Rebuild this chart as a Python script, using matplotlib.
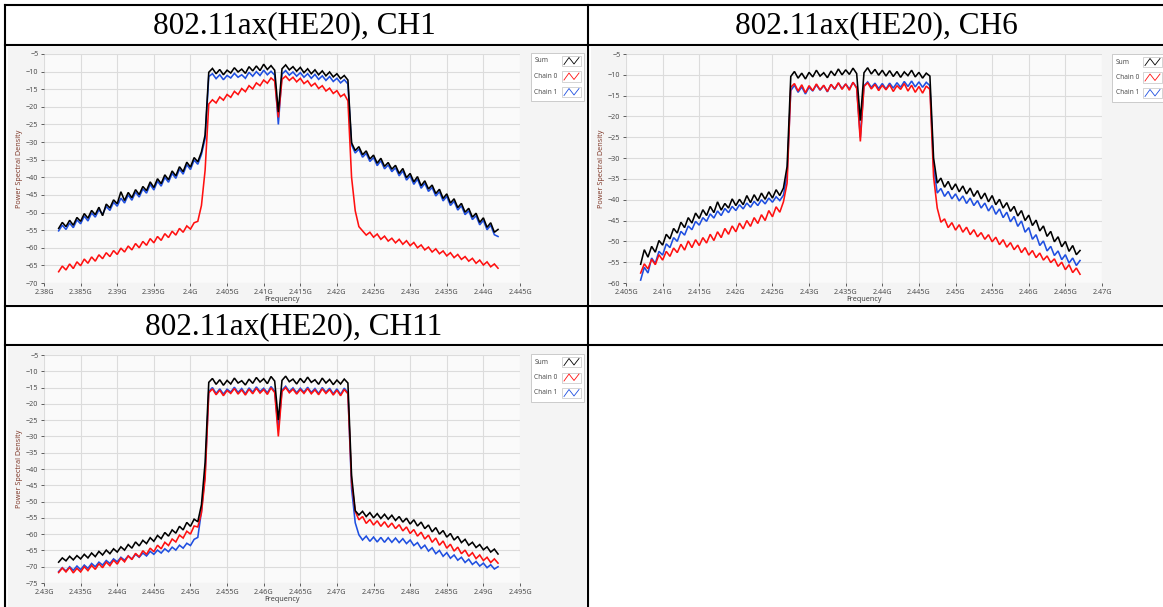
import numpy as np
import matplotlib.pyplot as plt
from matplotlib.lines import Line2D
from matplotlib.patches import Rectangle

W, H = 1163, 607

# Chart titles
titles = ["802.11ax(HE20), CH1", "802.11ax(HE20), CH6", "802.11ax(HE20), CH11"]
series_names = ["Sum", "Chain 0", "Chain 1"]

# Trace start / stop frequency (GHz) for each channel
ch1_span = (2.382, 2.442)
ch6_span = (2.407, 2.467)
ch11_span = (2.432, 2.492)

# Power spectral density (0.5 MHz steps)
ch1_sum = [
    -54.5, -52.8, -54.0, -52.2, -53.6, -51.4, -52.5, -50.3, -51.6, -49.4,
    -50.6, -48.5, -50.9, -47.6, -48.7, -46.4, -47.5, -44.1, -46.6, -44.3,
    -45.8, -43.5, -44.9, -42.6, -43.8, -41.3, -42.9, -40.4, -41.8, -39.3,
    -40.7, -38.2, -39.6, -37.0, -38.4, -35.7, -37.1, -34.4, -35.6, -32.8,
    -28.0,
    -10.2, -9.1, -10.6, -9.4, -10.9, -9.6, -10.4, -8.9, -10.1, -9.3,
    -10.5, -8.6, -9.8, -8.4, -9.7, -7.9, -9.4, -8.3, -9.6, -21.5,
    -9.2, -8.1, -9.5, -8.6, -9.9, -8.8, -10.3, -9.2, -10.6, -9.5,
    -10.9, -9.8, -11.2, -10.1, -11.5, -10.6, -12.0, -11.1, -12.4,
    -30.2, -32.4, -31.3, -33.6, -32.5, -34.8, -33.7, -36.0, -34.6, -36.9,
    -35.8, -37.7, -36.6, -38.9, -37.5, -40.1, -38.9, -41.3, -39.8, -42.4,
    -41.0, -43.3, -42.2, -44.6, -43.4, -46.0, -44.7, -47.3, -46.1, -48.6,
    -47.4, -49.9, -48.8, -51.3, -50.2, -52.8, -51.5, -54.2, -52.9, -55.6,
    -54.8,
]
ch1_chain0 = [
    -66.8, -65.2, -66.3, -64.6, -65.9, -64.0, -65.1, -63.2, -64.4, -62.6,
    -63.8, -62.0, -63.1, -61.4, -62.5, -60.8, -61.9, -60.1, -61.2, -59.5,
    -60.6, -58.8, -60.0, -58.2, -59.3, -57.4, -58.6, -56.8, -57.9, -56.0,
    -57.1, -55.3, -56.4, -54.5, -55.6, -53.8, -54.7, -52.9, -52.5, -48.0,
    -38.0,
    -19.2, -18.0, -18.9, -17.2, -18.1, -16.5, -17.3, -15.6, -16.5, -14.8,
    -15.7, -14.0, -14.9, -13.2, -14.0, -12.4, -13.3, -11.8, -12.7, -23.0,
    -12.2, -11.3, -12.5, -11.6, -12.9, -11.9, -13.4, -12.6, -14.1, -13.3,
    -14.8, -14.0, -15.5, -14.7, -16.2, -15.4, -17.1, -16.4, -18.3,
    -40.0, -49.5, -54.0, -55.2, -56.4, -55.6, -57.0, -56.1, -57.6, -56.7,
    -58.1, -57.3, -58.6, -57.6, -59.0, -58.0, -59.4, -58.5, -60.0, -59.2,
    -60.6, -59.8, -61.2, -60.3, -61.7, -60.9, -62.3, -61.4, -62.8, -61.9,
    -63.3, -62.5, -63.8, -63.0, -64.4, -63.5, -64.9, -64.0, -65.4, -64.6,
    -65.8,
]
ch1_chain1 = [
    -55.2, -53.6, -54.8, -53.0, -54.3, -52.1, -53.2, -51.0, -52.4, -50.1,
    -51.3, -49.2, -50.5, -48.3, -49.4, -47.1, -48.2, -45.9, -47.3, -45.0,
    -46.5, -44.2, -45.6, -43.3, -44.5, -42.0, -43.6, -41.1, -42.5, -40.0,
    -41.4, -38.9, -40.3, -37.7, -39.1, -36.4, -37.8, -35.1, -36.3, -33.5,
    -29.0,
    -11.4, -10.6, -12.0, -10.9, -12.3, -11.1, -11.8, -10.5, -11.6, -10.9,
    -11.9, -10.2, -11.3, -10.0, -11.1, -9.6, -10.9, -9.9, -11.0, -25.0,
    -10.7, -9.7, -11.0, -10.1, -11.3, -10.3, -11.6, -10.6, -11.9, -10.8,
    -12.2, -11.2, -12.5, -11.4, -12.8, -11.9, -13.2, -12.3, -13.5,
    -30.8, -33.1, -32.0, -34.3, -33.2, -35.5, -34.4, -36.7, -35.3, -37.6,
    -36.5, -38.4, -37.3, -39.6, -38.2, -40.8, -39.6, -42.0, -40.5, -43.1,
    -41.7, -44.0, -42.9, -45.3, -44.1, -46.7, -45.4, -48.0, -46.8, -49.3,
    -48.1, -50.6, -49.5, -52.0, -50.9, -53.5, -52.2, -54.9, -53.6, -56.3,
    -56.8,
]

ch6_sum = [
    -55.5, -52.0, -53.8, -51.2, -52.6, -49.8, -50.9, -48.3, -49.4, -46.9,
    -48.0, -45.4, -46.7, -44.3, -45.6, -43.2, -44.5, -42.4, -43.8, -41.6,
    -43.1, -40.5, -42.5, -40.9, -42.0, -39.8, -41.4, -39.9, -41.2, -39.0,
    -40.7, -38.8, -40.3, -38.4, -39.9, -38.1, -39.6, -37.6, -39.0, -37.2,
    -32.0,
    -10.4, -9.2, -10.8, -9.6, -11.0, -9.4, -10.5, -8.9, -10.3, -9.5,
    -10.7, -9.1, -10.2, -8.6, -10.0, -8.8, -9.9, -8.4, -9.7, -21.0,
    -9.5, -8.3, -9.8, -8.7, -10.1, -8.9, -10.3, -9.0, -10.4, -9.2,
    -10.6, -9.3, -10.2, -8.9, -10.5, -9.4, -10.8, -9.6, -10.3,
    -30.0, -36.0, -34.8, -37.0, -35.6, -37.6, -36.2, -38.1, -36.7, -38.6,
    -37.2, -39.2, -37.8, -39.8, -38.4, -40.5, -39.0, -41.2, -39.9, -42.0,
    -40.7, -42.8, -41.6, -43.9, -42.6, -45.0, -43.7, -46.2, -44.9, -47.5,
    -46.3, -48.8, -47.6, -50.1, -48.9, -51.3, -50.0, -52.4, -51.0, -53.2,
    -52.2,
]
ch6_chain0 = [
    -57.6, -55.4, -56.6, -54.3, -55.6, -53.2, -54.5, -52.4, -53.6, -51.6,
    -52.7, -50.7, -52.1, -49.9, -51.5, -49.6, -51.0, -49.1, -50.4, -48.3,
    -49.8, -47.7, -49.1, -46.9, -48.3, -46.3, -47.7, -45.6, -47.0, -45.0,
    -46.4, -44.3, -45.7, -43.6, -45.0, -42.6, -44.1, -41.7, -43.0, -40.5,
    -36.0,
    -13.0, -12.1, -13.9, -12.4, -14.3, -12.6, -13.8, -12.2, -13.6, -12.5,
    -14.0, -12.3, -13.4, -11.9, -13.5, -12.2, -13.7, -11.8, -13.2, -26.0,
    -12.8, -11.9, -13.4, -12.3, -13.8, -12.5, -13.6, -12.4, -14.0, -12.6,
    -13.5, -12.1, -13.9, -12.5, -14.2, -12.8, -14.4, -12.7, -13.5,
    -34.5, -42.0, -45.4, -44.6, -46.7, -45.5, -47.3, -46.0, -47.8, -46.6,
    -48.4, -47.2, -48.9, -47.9, -49.5, -48.4, -50.1, -49.0, -50.8, -49.6,
    -51.4, -50.3, -52.0, -50.9, -52.7, -51.5, -53.3, -52.2, -53.9, -52.8,
    -54.5, -53.5, -55.1, -54.2, -56.0, -55.0, -56.8, -55.6, -57.5, -56.4,
    -57.9,
]
ch6_chain1 = [
    -59.3, -56.2, -57.6, -54.0, -55.3, -52.4, -53.3, -50.6, -51.5, -49.1,
    -50.0, -47.6, -48.5, -46.3, -47.2, -45.2, -46.1, -44.3, -45.2, -43.4,
    -44.4, -42.7, -43.8, -42.1, -43.1, -41.6, -42.6, -41.2, -42.2, -40.8,
    -41.8, -40.4, -41.4, -40.0, -41.0, -39.6, -40.6, -39.3, -40.2, -38.9,
    -34.0,
    -13.8, -12.5, -14.2, -12.9, -14.6, -13.0, -13.9, -12.4, -13.7, -12.6,
    -14.1, -12.3, -13.5, -12.0, -13.3, -12.2, -13.4, -11.8, -13.1, -25.0,
    -12.6, -11.7, -13.0, -12.0, -13.3, -12.1, -13.4, -12.0, -13.2, -11.9,
    -13.0, -11.6, -12.8, -11.5, -12.9, -11.7, -13.0, -11.8, -12.6,
    -32.0, -38.4, -37.3, -39.2, -38.0, -39.8, -38.6, -40.3, -39.1, -40.9,
    -39.6, -41.4, -40.2, -42.0, -40.8, -42.7, -41.4, -43.5, -42.2, -44.3,
    -43.0, -45.3, -44.0, -46.4, -45.1, -47.8, -46.7, -49.5, -48.4, -51.0,
    -49.9, -52.3, -51.2, -53.4, -52.3, -54.4, -53.2, -55.2, -54.0, -55.8,
    -54.6,
]

ch11_sum = [
    -68.6, -67.3, -68.2, -66.8, -67.9, -66.6, -67.6, -66.2, -67.3, -65.8,
    -66.9, -65.3, -66.4, -64.9, -66.0, -64.5, -65.5, -63.9, -64.9, -63.2,
    -64.3, -62.4, -63.6, -61.9, -62.9, -61.1, -62.2, -60.4, -61.4, -59.5,
    -60.6, -58.7, -59.7, -57.6, -58.7, -56.4, -57.6, -55.4, -56.2, -51.0,
    -38.0,
    -13.4, -12.2, -14.0, -12.6, -14.3, -12.8, -13.9, -12.1, -13.6, -12.9,
    -14.2, -12.4, -13.7, -11.9, -13.3, -12.3, -13.8, -11.6, -13.0, -25.0,
    -12.8, -11.5, -13.2, -12.4, -13.9, -12.2, -13.5, -11.8, -13.4, -12.6,
    -14.0, -12.1, -13.6, -12.5, -14.1, -12.7, -13.9, -12.4, -13.6,
    -42.0, -52.8, -54.1, -53.0, -54.6, -53.4, -55.0, -53.7, -55.2, -53.9,
    -55.4, -54.2, -55.8, -54.6, -56.3, -55.1, -56.9, -55.6, -57.5, -56.3,
    -58.3, -57.2, -59.3, -58.0, -60.0, -58.9, -60.9, -59.8, -61.8, -60.7,
    -62.6, -61.6, -63.4, -62.5, -64.1, -63.2, -64.8, -63.9, -65.5, -64.6,
    -66.1,
]
ch11_chain0 = [
    -71.8, -70.4, -71.6, -70.2, -71.9, -70.5, -71.6, -70.0, -71.2, -69.6,
    -70.8, -69.1, -70.3, -68.6, -69.7, -68.0, -69.2, -67.4, -68.5, -66.7,
    -67.8, -65.9, -67.0, -65.1, -66.2, -64.3, -65.4, -63.4, -64.5, -62.5,
    -63.5, -61.5, -62.4, -60.3, -61.2, -59.1, -60.0, -57.5, -57.8, -53.5,
    -43.0,
    -16.6, -15.4, -17.2, -15.8, -17.5, -15.9, -16.8, -15.3, -17.0, -15.7,
    -17.3, -15.5, -16.9, -15.2, -16.7, -15.6, -17.1, -15.1, -16.5, -30.0,
    -16.2, -15.0, -16.6, -15.5, -17.0, -15.6, -16.8, -15.3, -16.9, -15.7,
    -17.2, -15.4, -16.8, -15.6, -17.3, -15.8, -17.5, -15.6, -16.9,
    -44.0, -53.0, -55.6, -54.6, -56.7, -55.5, -57.2, -55.9, -57.6, -56.2,
    -57.9, -56.6, -58.3, -57.1, -59.0, -57.8, -59.8, -58.6, -60.6, -59.4,
    -61.5, -60.3, -62.5, -61.2, -63.4, -62.1, -64.3, -63.1, -65.2, -64.0,
    -66.0, -64.9, -66.8, -65.7, -67.5, -66.4, -68.1, -67.1, -68.7, -67.6,
    -68.9,
]
ch11_chain1 = [
    -71.5, -70.3, -71.3, -70.0, -71.1, -69.8, -70.9, -69.5, -70.5, -69.0,
    -70.0, -68.6, -69.5, -68.1, -69.0, -67.6, -68.5, -67.1, -68.0, -66.7,
    -67.6, -66.2, -67.1, -65.8, -66.7, -65.3, -66.2, -64.9, -65.8, -64.5,
    -65.4, -64.0, -64.9, -63.4, -64.3, -62.8, -63.5, -61.6, -61.0, -53.0,
    -41.5,
    -16.2, -15.0, -16.8, -15.4, -17.0, -15.5, -16.4, -14.9, -16.5, -15.3,
    -16.9, -15.1, -16.4, -14.8, -16.2, -15.2, -16.6, -14.7, -16.1, -28.0,
    -15.8, -14.6, -16.2, -15.1, -16.6, -15.2, -16.4, -14.9, -16.5, -15.3,
    -16.8, -15.0, -16.4, -15.2, -16.9, -15.4, -17.1, -15.2, -16.5,
    -46.0, -56.5, -60.2, -61.8, -60.6, -62.2, -60.9, -62.4, -61.0, -62.5,
    -61.1, -62.5, -61.2, -62.6, -61.4, -62.9, -61.8, -63.5, -62.6, -64.4,
    -63.4, -65.2, -64.2, -66.0, -65.0, -66.8, -65.7, -67.4, -66.4, -68.0,
    -67.1, -68.7, -67.7, -69.3, -68.4, -69.8, -68.9, -70.3, -69.4, -70.7,
    -70.0,
]

# Axis ticks
ch1_xticks = [2.38, 2.385, 2.39, 2.395, 2.4, 2.405, 2.41, 2.415, 2.42, 2.425, 2.43, 2.435, 2.44, 2.445]
ch6_xticks = [2.405, 2.41, 2.415, 2.42, 2.425, 2.43, 2.435, 2.44, 2.445, 2.45, 2.455, 2.46, 2.465, 2.47]
ch11_xticks = [2.43, 2.435, 2.44, 2.445, 2.45, 2.455, 2.46, 2.465, 2.47, 2.475, 2.48, 2.485, 2.49, 2.495]
ch1_yticks = list(range(-5, -71, -5))
ch6_yticks = list(range(-5, -61, -5))
ch11_yticks = list(range(-5, -76, -5))

colors = ["#000000", "#ff1010", "#1f4fe0"]
small_font = "Open Sans"


def fx(px):
    return px / W


def fy(py):
    return 1 - py / H


fig = plt.figure(figsize=(W / 100, H / 100), dpi=100)
fig.patch.set_facecolor("white")

# table grid
def hline(py, x0=5, x1=W):
    fig.add_artist(Line2D([fx(x0), fx(x1)], [fy(py), fy(py)], color="black", lw=1.5))

def vline(px, y0=5, y1=H):
    fig.add_artist(Line2D([fx(px), fx(px)], [fy(y0), fy(y1)], color="black", lw=1.5))

for py in [5, 45, 306, 345]:
    hline(py)
vline(5)
vline(588)

# gray chart panels
for (x0, y0, x1, y1) in [(8, 47, 586, 304), (591, 47, W, 304), (8, 347, 586, H)]:
    fig.add_artist(Rectangle((fx(x0), fy(y1)), fx(x1) - fx(x0), fy(y0) - fy(y1),
                             facecolor="#f4f4f4", edgecolor="none", zorder=-1))

tkw = dict(ha="center", va="center", fontsize=22.5, family="Liberation Serif")
fig.text(fx(294), fy(26), titles[0], **tkw)
fig.text(fx(876), fy(26), titles[1], **tkw)
fig.text(fx(294), fy(327), titles[2], **tkw)


def draw_legend(lx, ly):
    # LabVIEW style plot legend: label on the left, boxed zigzag swatch on the right
    fig.add_artist(Rectangle((fx(lx), fy(ly + 48)), fx(53), 48 / H,
                             facecolor="white", edgecolor="#c4c4c4", lw=0.6, zorder=5))
    for k, (name, col) in enumerate(zip(series_names, colors)):
        cy = ly + 8 + 15.5 * k
        fig.text(fx(lx + 3.5), fy(cy), name, ha="left", va="center",
                 fontsize=4.8, color="#444444", family=small_font, zorder=6)
        bx = lx + 31
        fig.add_artist(Rectangle((fx(bx), fy(cy + 5)), fx(19), 10 / H,
                                 facecolor="white", edgecolor="#c4c4c4", lw=0.5, zorder=6))
        zx = [bx + 2, bx + 7, bx + 12, bx + 17]
        zy = [cy + 3.5, cy - 3.5, cy + 3, cy - 3.5]
        fig.add_artist(Line2D([fx(v) for v in zx], [fy(v) for v in zy],
                              color=col, lw=0.6, zorder=7))


charts = [
    dict(box=(44, 54, 520, 283), span=ch1_span, data=[ch1_sum, ch1_chain0, ch1_chain1],
         xticks=ch1_xticks, yticks=ch1_yticks, leg=(531, 53)),
    dict(box=(626, 54, 1102, 283), span=ch6_span, data=[ch6_sum, ch6_chain0, ch6_chain1],
         xticks=ch6_xticks, yticks=ch6_yticks, leg=(1112, 54)),
    dict(box=(44, 355, 520, 583), span=ch11_span, data=[ch11_sum, ch11_chain0, ch11_chain1],
         xticks=ch11_xticks, yticks=ch11_yticks, leg=(531, 354)),
]

for c in charts:
    x0, y0, x1, y1 = c["box"]
    ax = fig.add_axes([fx(x0), fy(y1), fx(x1) - fx(x0), fy(y0) - fy(y1)])
    ax.set_facecolor("#fafafa")

    # draw chain 1, chain 0, then sum on top
    for i in [2, 1, 0]:
        vals = c["data"][i]
        freq = np.linspace(c["span"][0], c["span"][1], len(vals))
        ax.plot(freq, vals, color=colors[i], lw=1.15, solid_joinstyle="miter")

    ax.set_xlim(c["xticks"][0], c["xticks"][-1])
    ax.set_ylim(c["yticks"][-1], c["yticks"][0])
    ax.set_xticks(c["xticks"])
    ax.set_xticklabels([f"{t:g}G" for t in c["xticks"]])
    ax.set_yticks(c["yticks"])
    ax.grid(True, color="#dcdcdc", lw=0.8)
    ax.set_axisbelow(True)
    for s in ax.spines.values():
        s.set_visible(False)
    ax.tick_params(labelsize=5.2, colors="#444444", length=2.5, width=0.6, pad=1.5)
    for lab in ax.get_xticklabels() + ax.get_yticklabels():
        lab.set_family(small_font)
    ax.set_xlabel("Frequency", fontsize=5.2, color="#333333", labelpad=0.5, family=small_font)
    ax.set_ylabel("Power Spectral Density", fontsize=5.2, color="#7a3020", labelpad=2,
                  family=small_font)

    draw_legend(*c["leg"])

fig.savefig("out.png", dpi=100)
